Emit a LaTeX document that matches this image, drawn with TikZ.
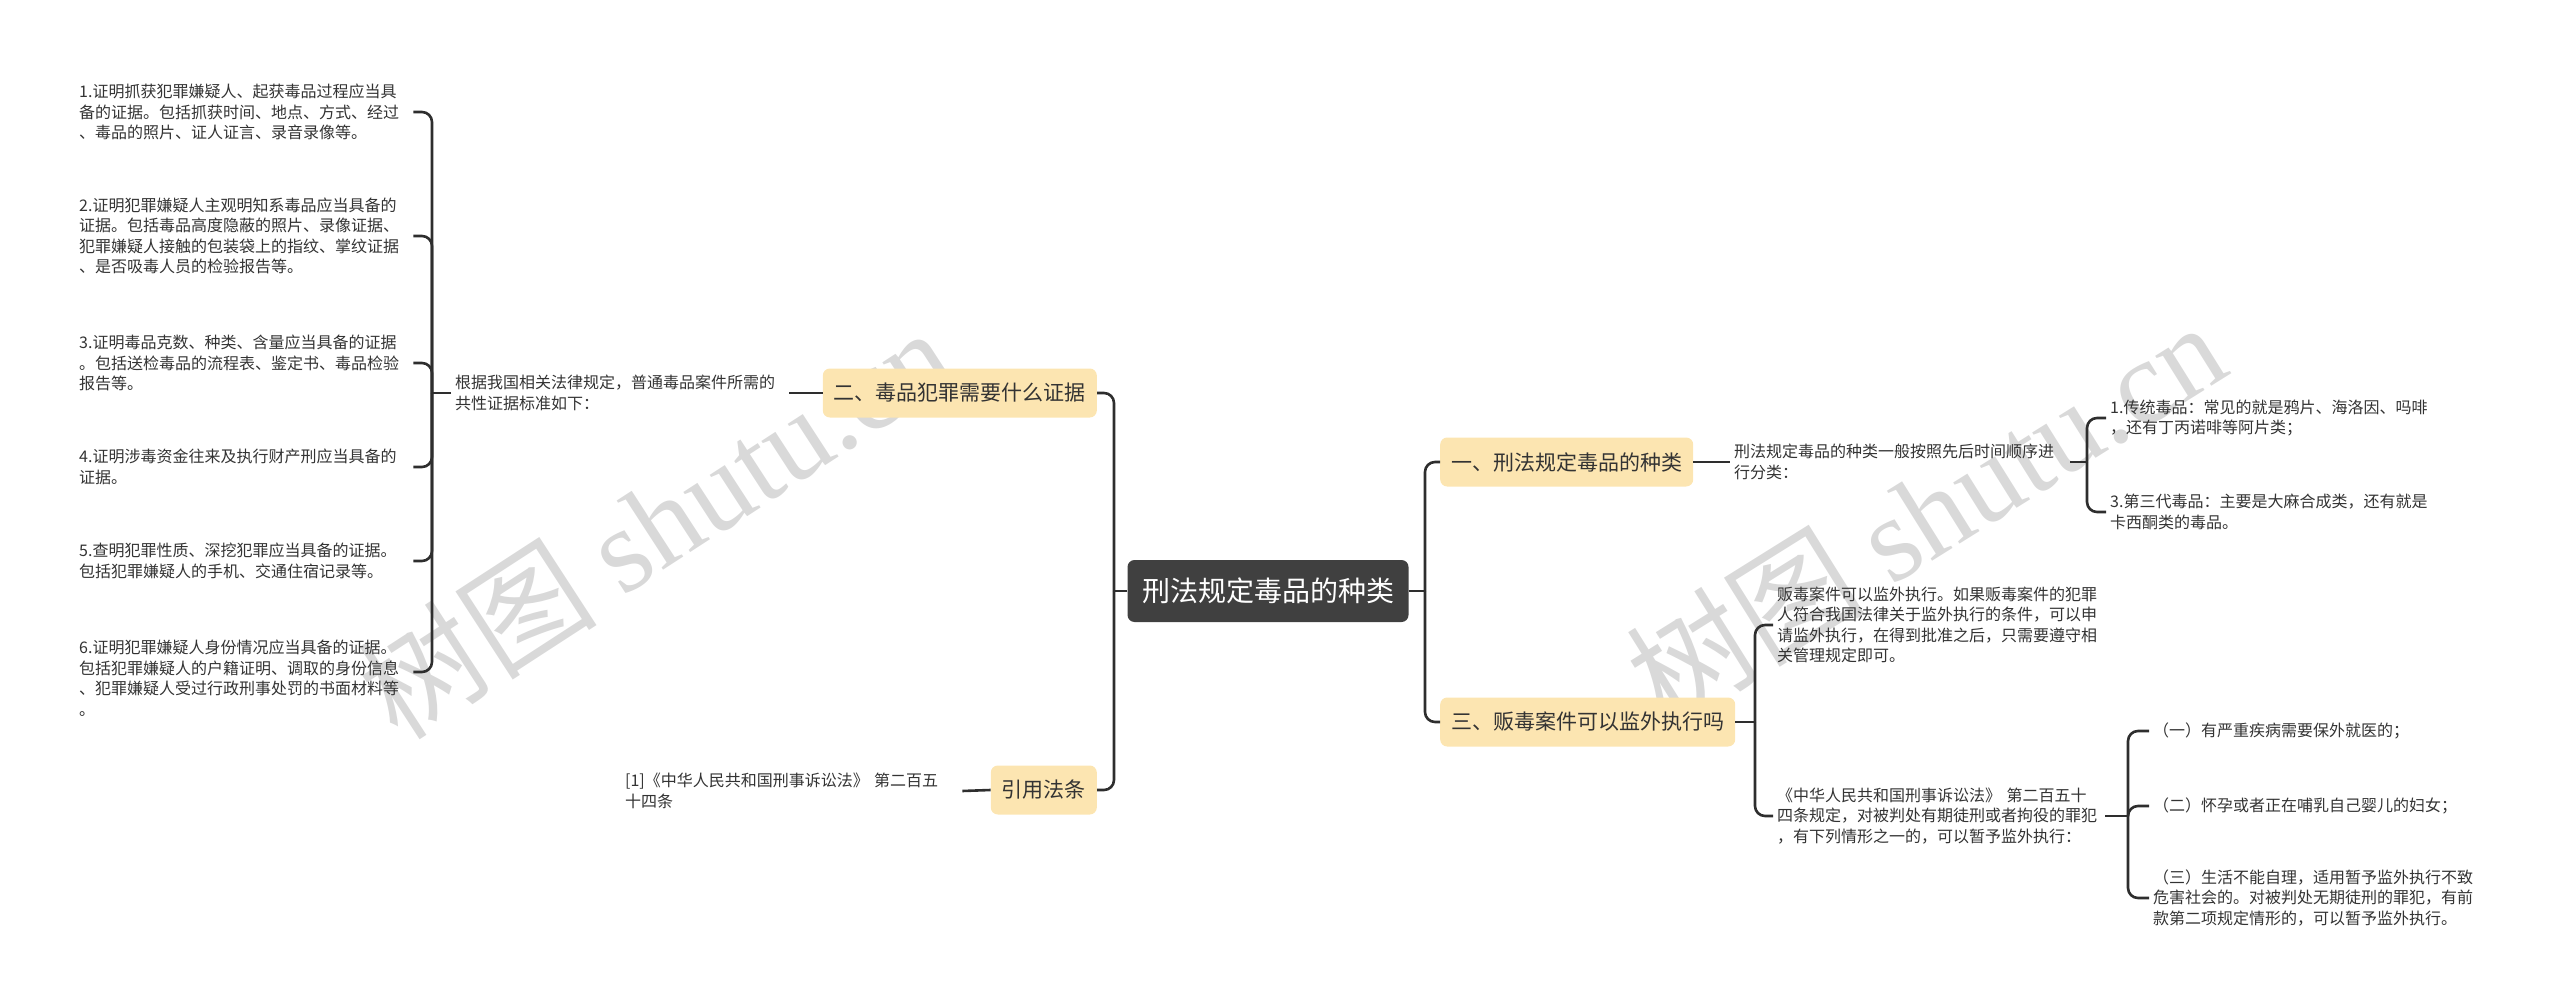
\documentclass[tikz,border=0pt]{standalone}
\usepackage{fontspec}
\setmainfont{Noto Sans CJK SC}
\newfontfamily\wmlatin{Liberation Serif}
\definecolor{linec}{HTML}{2E2E2E}
\definecolor{rootc}{HTML}{404040}
\definecolor{branchc}{HTML}{FCE5B1}
\definecolor{txtc}{HTML}{333333}
\definecolor{wmc}{HTML}{D9D9D9}
\begin{document}
\begin{tikzpicture}[x=1pt,y=-1pt,
  conn/.style={draw=linec, line width=2.6pt},
  hook/.style={conn, rounded corners=10pt},
  rootbox/.style={fill=rootc, rounded corners=7pt, text=white, font=\fontsize{28}{32}\selectfont, minimum width=281pt, minimum height=62pt, inner sep=0pt},
  branch/.style={fill=branchc, rounded corners=7pt, text=txtc, font=\fontsize{21}{24}\selectfont, minimum height=49pt, inner xsep=11pt, inner ysep=0pt},
  leaf/.style={text=txtc, font=\fontsize{16}{20.5}\selectfont, align=left, inner xsep=4pt, inner ysep=2pt},
  wm/.style={text=wmc, font=\fontsize{120}{130}\selectfont, inner sep=0pt}
]
\useasboundingbox (0,0) rectangle (2560,1008);

% watermarks
\node[wm, rotate=33] (wm1) at (655,522) {树图 {\wmlatin shutu.cn}};
\node[wm, rotate=32] (wm2) at (1925,512) {树图 {\wmlatin shutu.cn}};

% root
\node[rootbox] (root) at (1268,591) {刑法规定毒品的种类};

% branches
\node[branch, anchor=east] (b2) at (1097,393) {二、毒品犯罪需要什么证据};
\node[branch, anchor=east] (b4) at (1097,790) {引用法条};
\node[branch, anchor=west] (b1) at (1440,462) {一、刑法规定毒品的种类};
\node[branch, anchor=west] (b3) at (1440,722) {三、贩毒案件可以监外执行吗};

% left leaves
\node[leaf, anchor=west, text width=330pt] (l0) at (451,393) {根据我国相关法律规定，普通毒品案件所需的\\共性证据标准如下：};
\node[leaf, anchor=west, text width=330pt] (l1) at (75,112) {1.证明抓获犯罪嫌疑人、起获毒品过程应当具\\备的证据。包括抓获时间、地点、方式、经过\\、毒品的照片、证人证言、录音录像等。};
\node[leaf, anchor=west, text width=330pt] (l2) at (75,236) {2.证明犯罪嫌疑人主观明知系毒品应当具备的\\证据。包括毒品高度隐蔽的照片、录像证据、\\犯罪嫌疑人接触的包装袋上的指纹、掌纹证据\\、是否吸毒人员的检验报告等。};
\node[leaf, anchor=west, text width=330pt] (l3) at (75,363) {3.证明毒品克数、种类、含量应当具备的证据\\。包括送检毒品的流程表、鉴定书、毒品检验\\报告等。};
\node[leaf, anchor=west, text width=330pt] (l4) at (75,467) {4.证明涉毒资金往来及执行财产刑应当具备的\\证据。};
\node[leaf, anchor=west, text width=330pt] (l5) at (75,561) {5.查明犯罪性质、深挖犯罪应当具备的证据。\\包括犯罪嫌疑人的手机、交通住宿记录等。};
\node[leaf, anchor=west, text width=330pt] (l6) at (75,678) {6.证明犯罪嫌疑人身份情况应当具备的证据。\\包括犯罪嫌疑人的户籍证明、调取的身份信息\\、犯罪嫌疑人受过行政刑事处罚的书面材料等\\。};
\node[leaf, anchor=west, text width=333pt] (lr) at (621,791) {[1]《中华人民共和国刑事诉讼法》 第二百五\\十四条};

% right leaves
\node[leaf, anchor=west, text width=332pt] (r0) at (1730,462) {刑法规定毒品的种类一般按照先后时间顺序进\\行分类：};
\node[leaf, anchor=west, text width=325pt] (r1) at (2106,418) {1.传统毒品：常见的就是鸦片、海洛因、吗啡\\，还有丁丙诺啡等阿片类；};
\node[leaf, anchor=west, text width=325pt] (r3) at (2106,512) {3.第三代毒品：主要是大麻合成类，还有就是\\卡西酮类的毒品。};
\node[leaf, anchor=west, text width=324pt] (c1) at (1773,625) {贩毒案件可以监外执行。如果贩毒案件的犯罪\\人符合我国法律关于监外执行的条件，可以申\\请监外执行，在得到批准之后，只需要遵守相\\关管理规定即可。};
\node[leaf, anchor=west, text width=324pt] (c2) at (1773,816) {《中华人民共和国刑事诉讼法》 第二百五十\\四条规定，对被判处有期徒刑或者拘役的罪犯\\，有下列情形之一的，可以暂予监外执行：};
\node[leaf, anchor=west, text width=330pt] (s1) at (2149,731) {（一）有严重疾病需要保外就医的；};
\node[leaf, anchor=west, text width=330pt] (s2) at (2149,806) {（二）怀孕或者正在哺乳自己婴儿的妇女；};
\node[leaf, anchor=west, text width=330pt] (s3) at (2149,898) {（三）生活不能自理，适用暂予监外执行不致\\危害社会的。对被判处无期徒刑的罪犯，有前\\款第二项规定情形的，可以暂予监外执行。};

% junction points
\coordinate (jL) at (1114,591);
\coordinate (jR) at (1425,591);
\coordinate (jl0) at (432,393);
\coordinate (jr0) at (2087,462);
\coordinate (jb3) at (1755,722);
\coordinate (jc2) at (2128,816);

% root connectors
\draw[conn] (root.west) -- (jL);
\draw[hook] (jL) |- (b2.east);
\draw[hook] (jL) |- (b4.east);
\draw[conn] (root.east) -- (jR);
\draw[hook] (jR) |- (b1.west);
\draw[hook] (jR) |- (b3.west);

% left side
\draw[conn] (b2.west) -- (l0.east);
\draw[conn] (l0.west) -- (jl0);
\draw[hook] (jl0) |- (l1.east);
\draw[hook] (jl0) |- (l2.east);
\draw[hook] (jl0) |- (l3.east);
\draw[hook] (jl0) |- (l4.east);
\draw[hook] (jl0) |- (l5.east);
\draw[hook] (jl0) |- ([yshift=6pt]l6.east);
\draw[conn] (b4.west) -- (lr.east);

% right side
\draw[conn] (b1.east) -- (r0.west);
\draw[conn] (r0.east) -- (jr0);
\draw[hook] (jr0) |- (r1.west);
\draw[hook] (jr0) |- (r3.west);
\draw[conn] (b3.east) -- (jb3);
\draw[hook] (jb3) |- (c1.west);
\draw[hook] (jb3) |- (c2.west);
\draw[conn] (c2.east) -- (jc2);
\draw[hook] (jc2) |- (s1.west);
\draw[hook] (jc2) |- (s2.west);
\draw[hook] (jc2) |- (s3.west);
\end{tikzpicture}
\end{document}
